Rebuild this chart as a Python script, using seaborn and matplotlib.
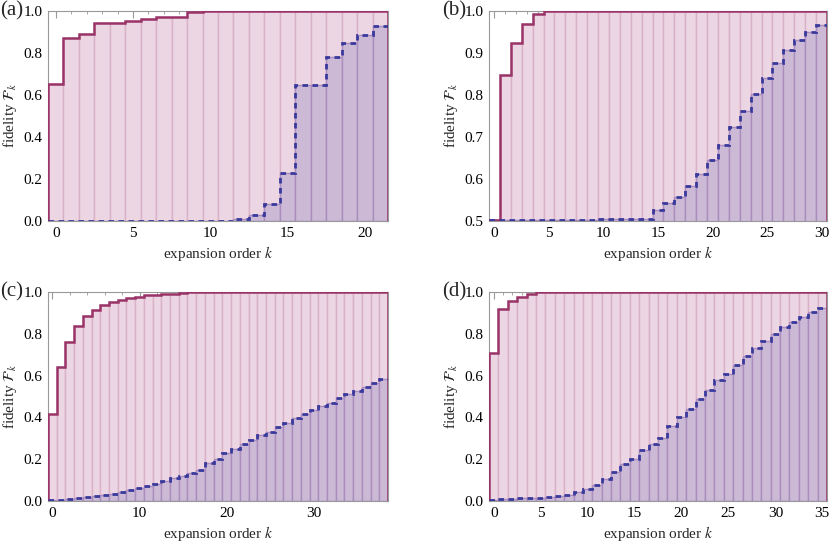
import numpy as np
import pandas as pd
import matplotlib
matplotlib.use("Agg")
import matplotlib.pyplot as plt
from matplotlib.ticker import MultipleLocator
import seaborn as sns

# values, index = expansion order k
fid_a_upper = [0.652, 0.871, 0.890, 0.944, 0.941, 0.954, 0.960, 0.970, 0.973, 0.997,
               0.999, 1.0, 1.0, 1.0, 1.0, 1.0, 1.0, 1.0, 1.0, 1.0, 1.0, 1.0]
fid_a_lower = [0.001, 0.001, 0.001, 0.001, 0.001, 0.001, 0.001, 0.001, 0.001, 0.001,
               0.001, 0.002, 0.010, 0.030, 0.083, 0.229, 0.649, 0.649, 0.782, 0.849,
               0.886, 0.928]

fid_b_upper = [0.502, 0.848, 0.924, 0.970, 0.994, 1.0, 1.0, 1.0, 1.0, 1.0, 1.0, 1.0,
               1.0, 1.0, 1.0, 1.0, 1.0, 1.0, 1.0, 1.0, 1.0, 1.0, 1.0, 1.0, 1.0, 1.0,
               1.0, 1.0, 1.0, 1.0, 1.0]
fid_b_lower = [0.502, 0.502, 0.502, 0.502, 0.502, 0.502, 0.502, 0.502, 0.502, 0.502,
               0.504, 0.504, 0.504, 0.504, 0.504, 0.526, 0.544, 0.558, 0.584, 0.612,
               0.646, 0.682, 0.723, 0.763, 0.803, 0.840, 0.877, 0.906, 0.931, 0.950,
               0.966]

fid_c_upper = [0.414, 0.640, 0.763, 0.835, 0.883, 0.915, 0.936, 0.950, 0.960, 0.970,
               0.978, 0.984, 0.987, 0.990, 0.992, 0.995, 1.0, 1.0, 1.0, 1.0, 1.0, 1.0,
               1.0, 1.0, 1.0, 1.0, 1.0, 1.0, 1.0, 1.0, 1.0, 1.0, 1.0, 1.0, 1.0, 1.0,
               1.0, 1.0, 1.0]
fid_c_lower = [0.003, 0.005, 0.008, 0.012, 0.017, 0.022, 0.028, 0.035, 0.043, 0.052,
               0.062, 0.072, 0.083, 0.095, 0.108, 0.121, 0.135, 0.150, 0.182, 0.203,
               0.230, 0.251, 0.275, 0.294, 0.315, 0.331, 0.355, 0.371, 0.395, 0.414,
               0.435, 0.454, 0.470, 0.491, 0.510, 0.526, 0.544, 0.563, 0.585]

fid_d_upper = [0.708, 0.920, 0.957, 0.976, 0.989, 1.0, 1.0, 1.0, 1.0, 1.0, 1.0, 1.0,
               1.0, 1.0, 1.0, 1.0, 1.0, 1.0, 1.0, 1.0, 1.0, 1.0, 1.0, 1.0, 1.0, 1.0,
               1.0, 1.0, 1.0, 1.0, 1.0, 1.0, 1.0, 1.0, 1.0, 1.0]
fid_d_lower = [0.003, 0.008, 0.010, 0.012, 0.014, 0.016, 0.020, 0.024, 0.030, 0.043,
               0.059, 0.075, 0.107, 0.140, 0.176, 0.200, 0.244, 0.272, 0.300, 0.359,
               0.404, 0.441, 0.489, 0.532, 0.580, 0.607, 0.652, 0.692, 0.732, 0.764,
               0.800, 0.832, 0.857, 0.881, 0.905, 0.925]

panel_labels = ["(a)", "(b)", "(c)", "(d)"]

sns.set_style("white")
plt.rcParams["font.family"] = ["Liberation Serif", "DejaVu Serif"]
plt.rcParams["mathtext.fontset"] = "stix"

pink_fill = "#ecd6e3"
pink_edge = "#d9b1c8"
purple_fill = "#cbb9d5"
purple_edge = "#aa8cbd"
solid_col = "#9a3468"
dash_col = "#3a3a9c"
frame_col = "#999999"

fig = plt.figure(figsize=(8.3, 5.51), dpi=100)

# [left, bottom, width, height] in figure fractions
positions = [
    [48 / 830, 1 - 221 / 551, 340 / 830, 210 / 551],
    [489 / 830, 1 - 221 / 551, 338 / 830, 210 / 551],
    [48 / 830, 1 - 501 / 551, 340 / 830, 209 / 551],
    [489 / 830, 1 - 501 / 551, 338 / 830, 209 / 551],
]
panels = [
    (fid_a_upper, fid_a_lower, (0.0, 1.0), 5, 1, 0.2, 0.05),
    (fid_b_upper, fid_b_lower, (0.5, 1.0), 5, 1, 0.1, 0.02),
    (fid_c_upper, fid_c_lower, (0.0, 1.0), 10, 2, 0.2, 0.05),
    (fid_d_upper, fid_d_lower, (0.0, 1.0), 5, 1, 0.2, 0.05),
]

for pos, (upper, lower, ylim, xmaj, xmin, ymaj, ymin), lab in zip(positions, panels, panel_labels):
    ax = fig.add_axes(pos)
    n = len(upper)
    df = pd.DataFrame({"k": np.arange(n), "upper": upper, "lower": lower})

    sns.barplot(data=df, x="k", y="upper", native_scale=True, width=1.0,
                color=pink_fill, saturation=1, edgecolor=pink_edge, linewidth=1.0, ax=ax)
    sns.barplot(data=df, x="k", y="lower", native_scale=True, width=1.0,
                color=purple_fill, saturation=1, edgecolor=purple_edge, linewidth=1.0, ax=ax)

    edges = np.arange(n + 1) - 0.5
    ax.stairs(df["upper"], edges, baseline=0, color=solid_col, linewidth=1.8, zorder=5)
    ax.stairs(df["lower"], edges, baseline=None, color=dash_col, linewidth=2.0,
              linestyle=(0, (2.0, 1.6)), zorder=6)

    ax.set_xlim(-0.5, n - 0.5)
    ax.set_ylim(*ylim)
    ax.xaxis.set_major_locator(MultipleLocator(xmaj))
    ax.xaxis.set_minor_locator(MultipleLocator(xmin))
    ax.yaxis.set_major_locator(MultipleLocator(ymaj))
    ax.yaxis.set_minor_locator(MultipleLocator(ymin))
    ax.yaxis.set_major_formatter(matplotlib.ticker.FormatStrFormatter("%.1f"))
    ax.tick_params(which="both", direction="in", top=True, right=True,
                   color=frame_col, labelsize=11, labelcolor="black", pad=4)
    ax.tick_params(which="major", length=5, width=0.8)
    ax.tick_params(which="minor", length=2.5, width=0.6)
    for sp in ax.spines.values():
        sp.set_color(frame_col)
        sp.set_linewidth(0.8)

    ax.set_xlabel(r"expansion order $k$", fontsize=11, labelpad=3)
    ax.set_ylabel(r"fidelity $\mathcal{F}_k$", fontsize=11, labelpad=3)
    ax.text(-0.14, 1.0, lab, transform=ax.transAxes, ha="left", va="center", fontsize=15)

fig.savefig("out.png", dpi=100)
